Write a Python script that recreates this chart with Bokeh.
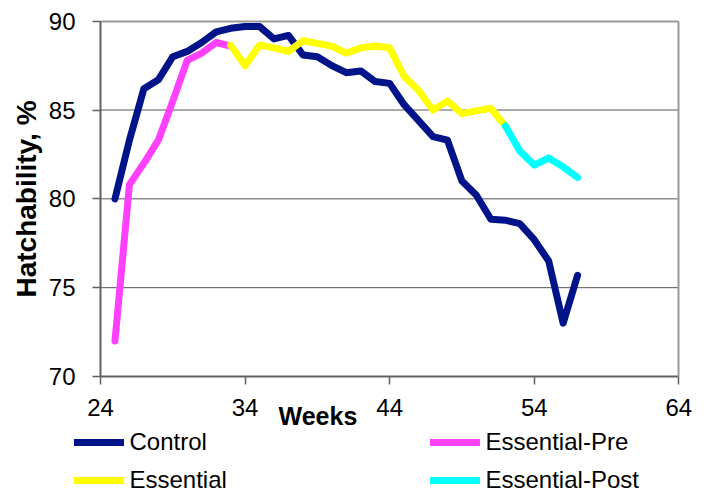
from bokeh.plotting import figure
from bokeh.models import FixedTicker, Legend, LegendItem, Label, Range1d, LinearAxis
from bokeh.embed import file_html
from bokeh.resources import INLINE

# ---- data ----
weeks_control = list(range(25, 58))
control = [80.0, 83.3, 86.2, 86.7, 88.0, 88.3, 88.8, 89.4, 89.6, 89.7, 89.7,
           89.0, 89.2, 88.1, 88.0, 87.5, 87.1, 87.2, 86.6, 86.5, 85.3, 84.4,
           83.5, 83.3, 81.0, 80.2, 78.85, 78.8, 78.6, 77.7, 76.5, 73.0, 75.7]

weeks_pre = list(range(25, 34))
essential_pre = [72.0, 80.8, 82.0, 83.3, 85.5, 87.8, 88.2, 88.8, 88.6]

weeks_ess = list(range(33, 53))
essential = [88.65, 87.5, 88.65, 88.5, 88.3, 88.9, 88.75, 88.6, 88.2, 88.5,
             88.6, 88.5, 86.9, 86.1, 85.0, 85.5, 84.8, 84.95, 85.1, 84.1]

weeks_post = list(range(52, 58))
essential_post = [84.1, 82.7, 81.9, 82.3, 81.8, 81.2]

x_ticks = [24, 34, 44, 54, 64]
y_ticks = [70, 75, 80, 85, 90]

series_names = ["Control", "Essential-Pre", "Essential", "Essential-Post"]
series_colors = ["#001489", "#FF40FF", "#FFFF00", "#00FFFF"]

FONT = "Liberation Sans"
X0, X1 = x_ticks[0], x_ticks[-1]
Y0, Y1 = y_ticks[0], y_ticks[-1]

# the frame covers the whole canvas; axes are pinned at the data edges
p = figure(width=707, height=494, output_backend="svg", toolbar_location=None,
           x_range=Range1d(17.083, 65.985), y_range=Range1d(63.358, 91.165),
           min_border_left=0, min_border_right=0, min_border_top=0,
           min_border_bottom=0)
p.outline_line_color = None
p.background_fill_color = "white"
p.border_fill_color = "white"
p.xgrid.visible = False
p.ygrid.visible = False

# horizontal gridlines inside the plot area
p.segment(x0=[X0] * 3, x1=[X1] * 3, y0=y_ticks[1:-1], y1=y_ticks[1:-1],
          line_color="#555555", line_width=1)

xs = [weeks_control, weeks_pre, weeks_ess, weeks_post]
ys = [control, essential_pre, essential, essential_post]
renderers = []
for x, y, c in zip(xs, ys, series_colors):
    r = p.line(x, y, line_color=c, line_width=7, line_cap="round", line_join="round")
    renderers.append(r)

# main axes
xa = p.xaxis[0]
ya = p.yaxis[0]
xa.fixed_location = Y0
xa.bounds = (X0, X1)
ya.fixed_location = X0
ya.bounds = (Y0, Y1)
xa.ticker = FixedTicker(ticks=x_ticks)
ya.ticker = FixedTicker(ticks=y_ticks)
for ax in (xa, ya):
    ax.axis_line_color = "#606060"
    ax.axis_line_width = 2
    ax.major_tick_line_color = "#606060"
    ax.major_tick_line_width = 1.5
    ax.major_tick_out = 8
    ax.major_tick_in = 0
    ax.minor_tick_line_color = None
    ax.major_label_text_font = FONT
    ax.major_label_text_font_size = "24px"
    ax.major_label_text_color = "black"
xa.major_label_standoff = 14
ya.major_label_standoff = 17

ya.axis_label = "Hatchability, %"
ya.axis_label_text_font = FONT
ya.axis_label_text_font_style = "bold"
ya.axis_label_text_font_size = "28px"
ya.axis_label_text_color = "black"
ya.axis_label_standoff = 4

# grey plot-area border at top and right
top_border = LinearAxis(fixed_location=Y1, bounds=(X0, X1), ticker=FixedTicker(ticks=[]),
                        axis_line_color="#999999", axis_line_width=2,
                        major_tick_line_color=None, minor_tick_line_color=None)
right_border = LinearAxis(fixed_location=X1, bounds=(Y0, Y1), ticker=FixedTicker(ticks=[]),
                          axis_line_color="#999999", axis_line_width=2,
                          major_tick_line_color=None, minor_tick_line_color=None)
p.add_layout(top_border, "above")
p.add_layout(right_border, "right")

p.add_layout(Label(x=39.04, y=Y0, y_offset=-39, text="Weeks", text_font=FONT,
                   text_font_style="bold", text_font_size="25px",
                   text_align="center", text_baseline="alphabetic",
                   text_color="black"))

items = [LegendItem(label=n, renderers=[r]) for n, r in zip(series_names, renderers)]
legend = Legend(items=items, location=(73.5, 0), orientation="horizontal", ncols=2,
                background_fill_alpha=0, border_line_alpha=0, padding=0, margin=0,
                label_text_font=FONT, label_text_font_size="24px",
                label_text_color="black", glyph_width=50, glyph_height=24,
                label_height=24, label_standoff=6, label_width=290, spacing=10)
p.add_layout(legend, "center")

open("out.html", "w").write(file_html(p, INLINE))
